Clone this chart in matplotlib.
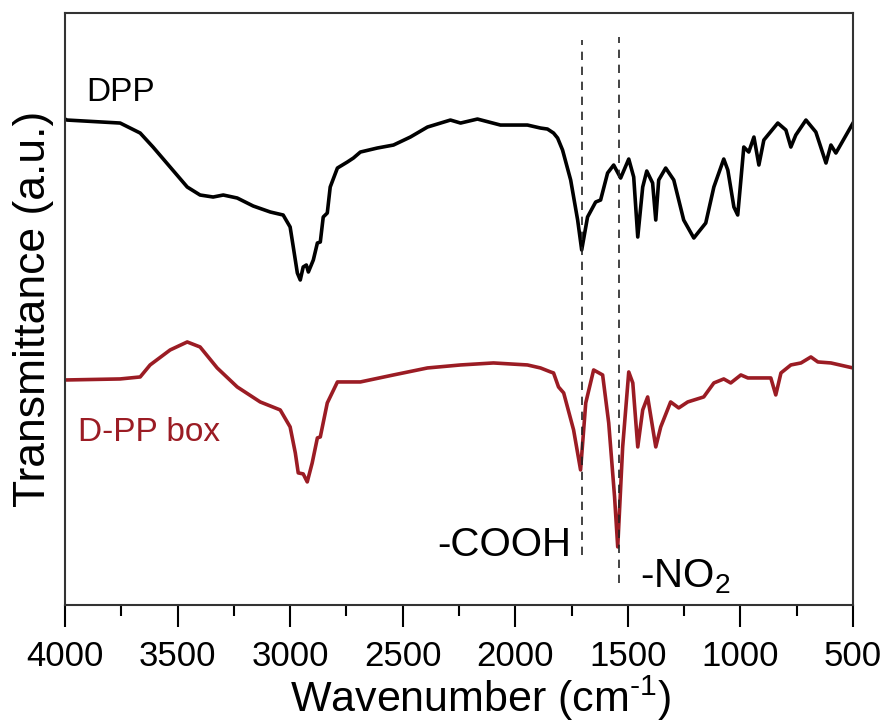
import numpy as np
import matplotlib.pyplot as plt
from matplotlib.ticker import MultipleLocator

plt.rcParams['font.family'] = ['Liberation Sans', 'DejaVu Sans']
plt.rcParams['mathtext.fontset'] = 'custom'
plt.rcParams['mathtext.rm'] = 'Liberation Sans'
plt.rcParams['mathtext.it'] = 'Liberation Sans'

# DPP spectrum (wavenumber, transmittance a.u.)
dpp_wn = [4000, 3991, 3755, 3666, 3609, 3533, 3457, 3400, 3342, 3297, 3235, 3164,
          3088, 3031, 3000, 2986, 2968, 2955, 2942, 2928, 2919, 2897, 2879, 2866,
          2853, 2835, 2822, 2790, 2746, 2719, 2688, 2613, 2541, 2466, 2390, 2288,
          2243, 2168, 2066, 1946, 1888, 1857, 1830, 1812, 1790, 1754, 1723, 1705,
          1679, 1643, 1621, 1590, 1563, 1532, 1496, 1474, 1456, 1434, 1416, 1390,
          1376, 1363, 1332, 1296, 1252, 1207, 1154, 1118, 1074, 1056, 1029, 1012,
          998, 985, 963, 940, 918, 896, 834, 798, 776, 754, 709, 665, 620, 598,
          576, 500]
dpp_t = [486, 485, 482, 472, 458, 438, 418, 410, 408, 410, 407, 399,
         393, 390, 378, 358, 332, 325, 338, 340, 333, 345, 362, 363,
         388, 392, 418, 437, 443, 447, 453, 457, 460, 468, 478, 485,
         482, 486, 480, 480, 477, 476, 472, 467, 455, 425, 385, 355,
         388, 403, 405, 432, 440, 427, 446, 428, 368, 418, 434, 422,
         385, 425, 437, 425, 385, 367, 382, 418, 446, 435, 398, 390,
         425, 458, 453, 468, 440, 465, 482, 475, 458, 470, 485, 473, 442, 460,
         452, 482]

# D-PP box spectrum
box_wn = [4000, 3991, 3755, 3666, 3622, 3533, 3457, 3400, 3324, 3235, 3133, 3044,
          3000, 2977, 2964, 2942, 2924, 2902, 2879, 2866, 2835, 2790, 2688, 2541,
          2390, 2243, 2097, 1946, 1888, 1843, 1830, 1808, 1785, 1741, 1710, 1687,
          1652, 1612, 1585, 1559, 1545, 1523, 1496, 1478, 1456, 1434, 1412, 1376,
          1354, 1310, 1274, 1234, 1163, 1118, 1074, 1043, 998, 967, 865, 843,
          820, 776, 731, 687, 656, 598, 500]
box_t = [225, 225, 226, 228, 240, 255, 263, 258, 237, 218, 203, 195,
         178, 152, 132, 131, 123, 142, 167, 168, 202, 223, 223, 230,
         237, 240, 242, 240, 237, 233, 232, 218, 212, 175, 135, 202,
         235, 230, 182, 108, 58, 158, 233, 222, 158, 195, 208, 158,
         178, 203, 197, 203, 208, 222, 226, 222, 230, 227, 227, 210,
         232, 240, 242, 248, 243, 242, 237]

red = '#9b1c24'

fig, ax = plt.subplots(figsize=(8.89, 7.27), dpi=100)
fig.subplots_adjust(left=0.0731, right=0.9595, top=0.982, bottom=0.168)

ax.plot(dpp_wn, dpp_t, color='black', lw=2.6, solid_joinstyle='round')
ax.plot(box_wn, box_t, color=red, lw=2.6, solid_joinstyle='round')

# marker lines for the functional groups
ax.plot([1705, 1705], [50, 565], color='#222222', lw=1.2, ls=(0, (5, 4)))
ax.plot([1540, 1540], [22, 568], color='#222222', lw=1.2, ls=(0, (5, 4)))

ax.text(3905, 513, 'DPP', fontsize=24, va='center', ha='left')
ax.text(3942, 172, 'D-PP box', fontsize=24, va='center', ha='left', color=red)
ax.text(1750, 60, '-COOH', fontsize=29, va='center', ha='right')
ax.text(1445, 28, '-NO$_2$', fontsize=29, va='center', ha='left')

ax.set_xlim(4000, 500)
ax.set_ylim(0, 592)
ax.xaxis.set_major_locator(MultipleLocator(500))
ax.xaxis.set_minor_locator(MultipleLocator(250))
ax.set_yticks([])
ax.tick_params(axis='x', which='major', direction='out', length=16, width=1.5,
               labelsize=25, pad=9)
ax.tick_params(axis='x', which='minor', direction='out', length=8, width=1.5)
for s in ax.spines.values():
    s.set_linewidth(1.5)
    s.set_color('#333333')

ax.set_xlabel('Wavenumber (cm$^{\u20101}$)', fontsize=31, labelpad=0.5)
ax.xaxis.label.set_x(0.527)
ax.set_ylabel('Transmittance (a.u.)', fontsize=32, labelpad=8)

fig.savefig('out.png', dpi=100)
